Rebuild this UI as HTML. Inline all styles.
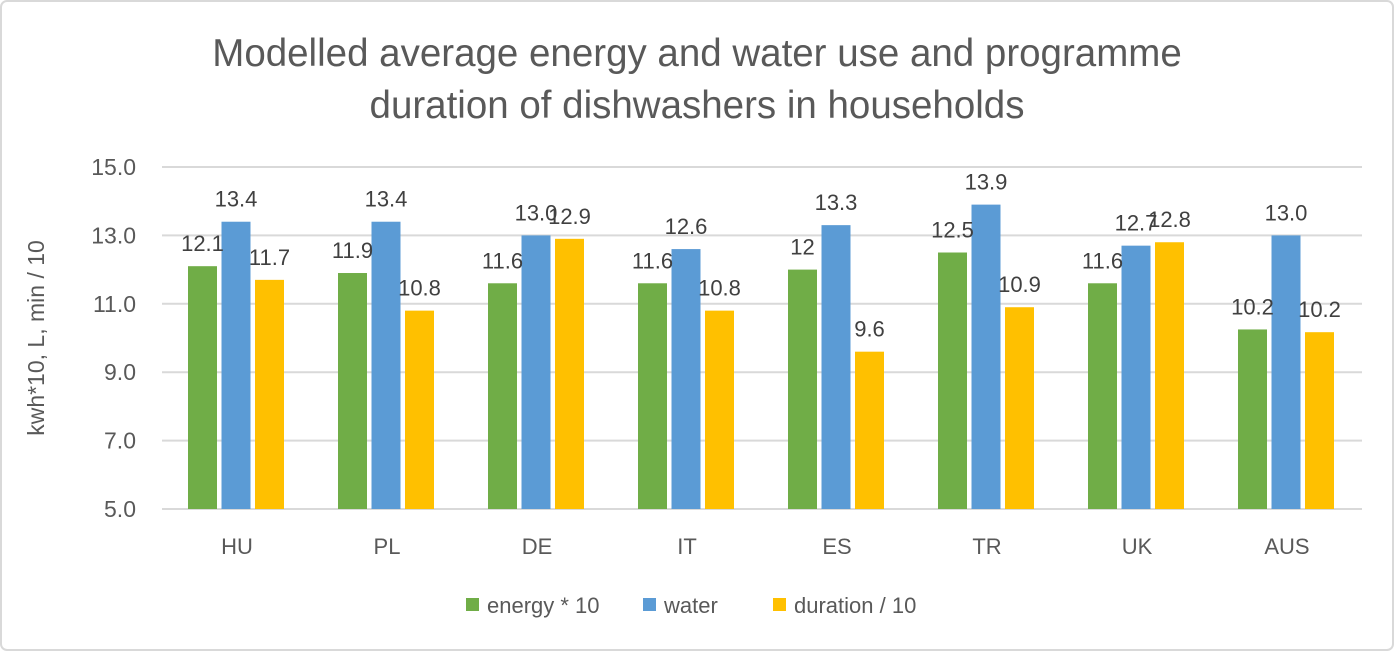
<!DOCTYPE html>
<html><head><meta charset="utf-8"><style>
html,body{margin:0;padding:0;background:#fff;}
svg{display:block;font-family:"Liberation Sans",sans-serif;}
</style></head><body>
<svg id="chart" width="1394" height="651">
<rect x="1" y="1" width="1392" height="649" rx="6" fill="#fff" stroke="#d9d9d9" stroke-width="2"/>
<text x="697" y="66" text-anchor="middle" font-size="38.5" fill="#595959">Modelled average energy and water use and programme</text>
<text x="697" y="118" text-anchor="middle" font-size="38.5" fill="#595959">duration of dishwashers in households</text>
<text transform="translate(44,338) rotate(-90)" text-anchor="middle" font-size="23" fill="#595959">kwh*10, L, min / 10</text>
<g id="grid"></g><g id="bars"></g><g id="labels"></g>
<g>
<rect x="466" y="598" width="13" height="13" fill="#70AD47"/>
<text x="487" y="613" font-size="22" fill="#595959">energy * 10</text>
<rect x="643" y="598" width="13" height="13" fill="#5B9BD5"/>
<text x="664" y="613" font-size="22" fill="#595959">water</text>
<rect x="773" y="598" width="13" height="13" fill="#FFC000"/>
<text x="794" y="613" font-size="22" fill="#595959">duration / 10</text>
</g>
</svg>
<script>
const categories=["HU","PL","DE","IT","ES","TR","UK","AUS"];
const energy=[12.1,11.9,11.6,11.6,12.0,12.5,11.6,10.25];
const water=[13.4,13.4,13.0,12.6,13.3,13.9,12.7,13.0];
const duration=[11.7,10.8,12.9,10.8,9.6,10.9,12.8,10.17];
const energyLabels=["12.1","11.9","11.6","11.6","12","12.5","11.6","10.2"];
const waterLabels=["13.4","13.4","13.0","12.6","13.3","13.9","12.7","13.0"];
const durationLabels=["11.7","10.8","12.9","10.8","9.6","10.9","12.8","10.2"];
const yTicks=[5,7,9,11,13,15];
const NS="http://www.w3.org/2000/svg";
const plotL=162,step=150,yMin=5,yMax=15,yTop=167,yBot=509;
const y=v=>yBot-(v-yMin)/(yMax-yMin)*(yBot-yTop);
const cx=i=>plotL+step*(i+0.5);
function mk(t,a,p){const e=document.createElementNS(NS,t);for(const k in a)e.setAttribute(k,a[k]);p.appendChild(e);return e;}
const grid=document.getElementById('grid'),bars=document.getElementById('bars'),labels=document.getElementById('labels');
yTicks.forEach(v=>{
  const l=mk('line',{x1:plotL,x2:plotL+step*categories.length,y1:y(v),y2:y(v),stroke:'#d9d9d9','stroke-width':2},grid);
  
  
  const t=mk('text',{x:136,y:y(v)+8,'text-anchor':'end','font-size':23,fill:'#595959'},grid);
  t.textContent=v.toFixed(1);
  
  
});
const series=[[energy,energyLabels,'#70AD47','energy'],[water,waterLabels,'#5B9BD5','water'],[duration,durationLabels,'#FFC000','duration']];
categories.forEach((c,i)=>{
  series.forEach((s,j)=>{
    const x0=cx(i)-49+j*33.5,w=29;
    const r=mk('rect',{x:x0,y:y(s[0][i]),width:w,height:yBot-y(s[0][i]),fill:s[2]},bars);
    
    
    const t=mk('text',{x:x0+w/2,y:y(s[0][i])-15,'text-anchor':'middle','font-size':22,fill:'#404040'},labels);
    t.textContent=s[1][i];
    
    
  });
  const t=mk('text',{x:cx(i),y:554,'text-anchor':'middle','font-size':22,fill:'#595959'},grid);
  t.textContent=c;
  
  
});
</script>
</body></html>
